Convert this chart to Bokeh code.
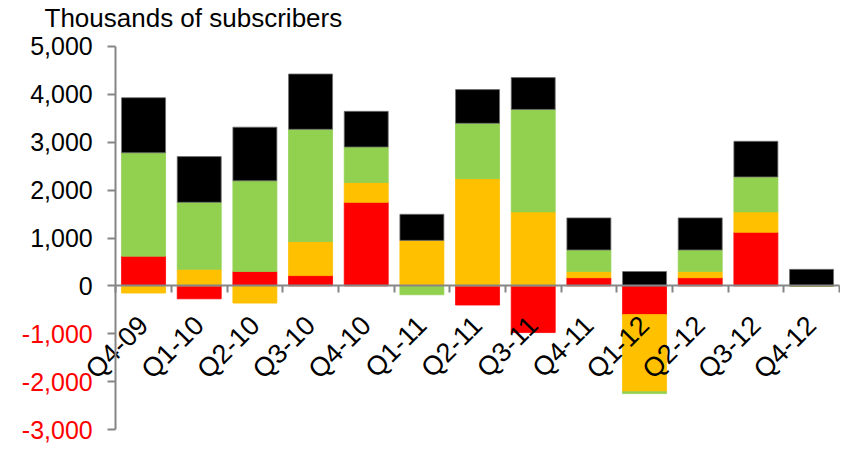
import numpy as np
from bokeh.plotting import figure
from bokeh.models import (FixedTicker, NumeralTickFormatter, Range1d, Title,
                          ColumnDataSource, LinearAxis)
from bokeh.embed import file_html
from bokeh.resources import INLINE

quarters = ["Q4-09", "Q1-10", "Q2-10", "Q3-10", "Q4-10", "Q1-11", "Q2-11",
            "Q3-11", "Q4-11", "Q1-12", "Q2-12", "Q3-12", "Q4-12"]
red    = [620, -270, 300, 215, 1745, 0, -400, -975, 170, -600, 170, 1120, 0]
orange = [-150, 345, -360, 710, 415, 950, 2240, 1545, 130, -1610, 130, 425, 0]
green  = [2160, 1400, 1895, 2345, 740, -185, 1155, 2140, 450, -40, 450, 730, 0]
black  = [1150, 955, 1120, 1155, 745, 545, 705, 665, 670, 300, 670, 745, 345]
y_ticks = [-3000, -2000, -1000, 0, 1000, 2000, 3000, 4000, 5000]

series = [red, orange, green, black]
colors = ["#FF0000", "#FFC000", "#92D050", "#000000"]
lines = ["#FF0000", "#FFC000", "#92D050", "#6f6f6f"]

FONT = "Liberation Sans"
AXIS_GRAY = "#868686"
n = len(quarters)

p = figure(width=840, height=443, output_backend="svg", toolbar_location=None,
           x_range=Range1d(-2.07, 13.02), y_range=Range1d(-3292, 5292),
           x_axis_location=None, y_axis_location=None,
           min_border_left=0, min_border_right=0, min_border_top=0,
           min_border_bottom=0)
p.outline_line_color = None
p.grid.visible = False

xs = np.arange(n) + 0.5
pos_base = np.zeros(n)
neg_base = np.zeros(n)
for vals, c, lc in zip(series, colors, lines):
    v = np.array(vals, dtype=float)
    bottom = np.where(v >= 0, pos_base, neg_base)
    top = bottom + v
    src = ColumnDataSource(dict(x=xs, bottom=bottom, top=top))
    p.vbar(x="x", bottom="bottom", top="top", width=0.79, source=src,
           fill_color=c, line_color=lc, line_width=0.8)
    pos_base = np.where(v >= 0, top, pos_base)
    neg_base = np.where(v < 0, top, neg_base)


def y_axis(color, keep_positive, show_line):
    ax = LinearAxis(fixed_location=0, bounds=(min(y_ticks), max(y_ticks)))
    ax.ticker = FixedTicker(ticks=y_ticks, minor_ticks=[])
    ax.formatter = NumeralTickFormatter(format="0,0")
    ax.major_label_overrides = {t: "" for t in y_ticks if (t >= 0) != keep_positive}
    ax.axis_line_color = AXIS_GRAY if show_line else None
    ax.axis_line_width = 2
    ax.major_tick_line_color = AXIS_GRAY if show_line else None
    ax.major_tick_line_width = 2
    ax.major_tick_out = 8
    ax.major_tick_in = 0
    ax.minor_tick_line_color = None
    ax.major_label_text_font = FONT
    ax.major_label_text_font_size = "25px"
    ax.major_label_text_color = color
    ax.major_label_standoff = 15
    return ax


p.add_layout(y_axis("black", True, True), "left")
p.add_layout(y_axis("#FF0000", False, False), "left")

# x axis at zero
xa = LinearAxis(fixed_location=0, bounds=(0, n))
xa.ticker = FixedTicker(ticks=list(xs), minor_ticks=list(range(n + 1)))
xa.major_label_overrides = {float(x): q for x, q in zip(xs, quarters)}
xa.axis_line_color = AXIS_GRAY
xa.axis_line_width = 2
xa.major_tick_line_color = None
xa.major_tick_out = 6
xa.minor_tick_line_color = AXIS_GRAY
xa.minor_tick_line_width = 2
xa.minor_tick_out = 7
xa.minor_tick_in = 0
xa.major_label_orientation = np.pi / 4
xa.major_label_text_font = FONT
xa.major_label_text_font_size = "27px"
xa.major_label_text_color = "black"
xa.major_label_standoff = 28
p.add_layout(xa, "below")

t = Title(text="Thousands of subscribers", text_font=FONT, text_font_size="26px",
          text_font_style="normal", text_color="black", align="left", offset=44,
          standoff=0)
p.add_layout(t, "above")

open("out.html", "w").write(file_html(p, INLINE))
